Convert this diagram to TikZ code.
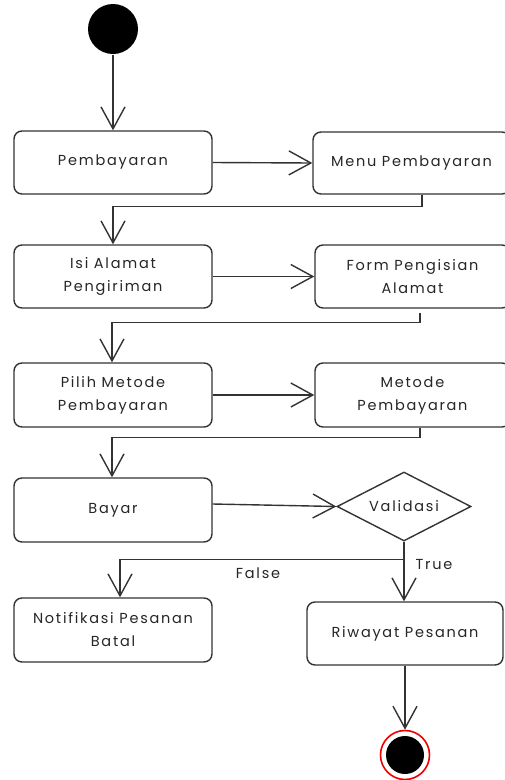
\documentclass[tikz,border=0pt]{standalone}
\usepackage{fontspec}
\newfontfamily\hand[LetterSpace=12]{Poppins}
\usetikzlibrary{arrows.meta,shapes.geometric}
\begin{document}
\begin{tikzpicture}[x=1pt,y=-1pt,
  line width=1.4pt,
  every node/.style={font=\hand\fontsize{14.5}{23}\selectfont, text=black!85},
  actbox/.style={draw=black!80, rounded corners=8pt, fill=white, line width=1.4pt,
    minimum width=198pt, minimum height=63pt, align=center, inner sep=0pt},
  decision/.style={draw=black!80, diamond, line width=1.4pt, minimum width=134pt,
    minimum height=69pt, inner sep=0pt, shape aspect=2},
  lbl/.style={inner sep=0pt},
  flow/.style={draw=black!80, line width=1.4pt, -{Straight Barb[length=22pt,width=24pt,line width=1.4pt]}},
  plain/.style={draw=black!80, line width=1.4pt}
]
\useasboundingbox (0,0) rectangle (504,780);
% start
\node[circle, fill=black, minimum size=50pt, inner sep=0pt] (start) at (113,29) {};

% activities
\node[actbox] (pemb) at (113,162.5) {Pembayaran};
\node[actbox, minimum width=197pt, minimum height=62pt] (menu) at (411.5,163) {Menu Pembayaran};
\node[actbox] (isi) at (113,276.5) {Isi Alamat\\Pengiriman};
\node[actbox, minimum width=195pt] (form) at (412.5,276.5) {Form Pengisian\\Alamat};
\node[actbox, minimum height=64pt] (pilih) at (113,395) {Pilih Metode\\Pembayaran};
\node[actbox, minimum width=195pt, minimum height=64pt] (metode) at (412.5,395) {Metode\\Pembayaran};
\node[actbox, minimum height=64pt] (bayar) at (113,510) {Bayar};
\node[decision] (valid) at (404,506.5) {Validasi};
\node[actbox, minimum height=64pt] (notif) at (113,630) {Notifikasi Pesanan\\Batal};
\node[actbox, minimum width=196pt] (riw) at (405,633.5) {Riwayat Pesanan};

% end
\node[circle, draw=red!95!black, line width=1.6pt, fill=white, minimum size=49pt, inner sep=0pt] (final) at (405,755) {};
\node[circle, fill=black, minimum size=38pt, inner sep=0pt] (finalin) at (final) {};

% connectors
\draw[flow] (start.south) -- (start.south |- pemb.north);
\draw[flow] (pemb.east) -- (menu.west);
\draw[flow] ([xshift=10.5pt]menu.south) -- ++(0,12) -| (isi.north);
\draw[flow] (isi.east) -- (form.west);
\draw[flow] ([xshift=7.5pt,yshift=-4pt]form.south) -- ++(0,10) -| ([xshift=-1pt]pilih.north);
\draw[flow] (pilih.east) -- (metode.west);
\draw[flow] ([xshift=7.5pt]metode.south) -- ++(0,10) -| ([xshift=-1pt]bayar.north);
\draw[flow] ([yshift=6pt]bayar.east) -- (valid.west);
\coordinate (split) at ([yshift=-18pt]valid.south);
\draw[plain] (valid.south) -- (split);
\draw[flow] (split) -| ([xshift=7pt]notif.north);
\draw[flow] (split) -- (split |- riw.north);
\draw[flow] (riw.south) -- (final.north);

\node[lbl] (false) at (258,573) {False};
\node[lbl] (true) at (434,565) {True};
\end{tikzpicture}
\end{document}
